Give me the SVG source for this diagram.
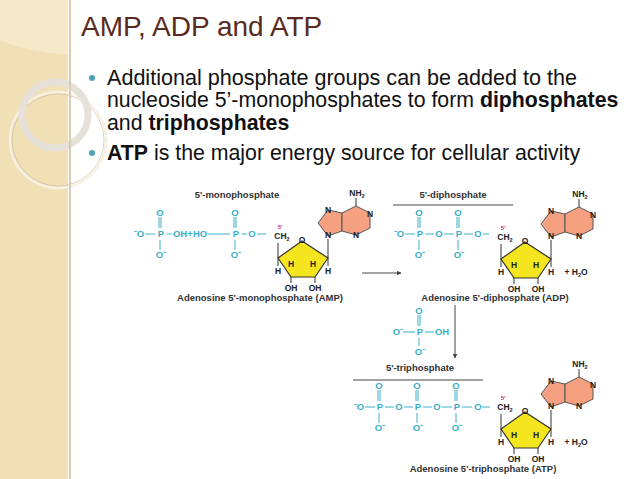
<svg xmlns="http://www.w3.org/2000/svg" xmlns:xlink="http://www.w3.org/1999/xlink" width="638" height="479" viewBox="0 0 638 479">
<style>
.t{font-family:"Liberation Sans",Arial,sans-serif}
.c{font-family:"Liberation Sans",Arial,sans-serif;font-weight:bold;font-size:8.5px;fill:#222;text-anchor:middle}
.p{font-family:"Liberation Sans",Arial,sans-serif;font-weight:bold;font-size:9.5px;fill:#3ab0c8;text-anchor:middle}
.b{stroke:#333;stroke-width:1;fill:none}
.pl{stroke:#3ab0c8;stroke-width:1}
.lbl{font-family:"Liberation Sans",Arial,sans-serif;font-weight:bold;font-size:9.5px;fill:#333;text-anchor:middle}
</style>
<defs>
<marker id="ah" viewBox="0 0 10 10" refX="9" refY="5" markerWidth="5" markerHeight="5" orient="auto"><path d="M0,0L10,5L0,10z" fill="#444"/></marker>
<g id="nuc">
<polygon points="-50,0 -26,-17 0,0 -13,19 -37,19" fill="#f5e51f" stroke="#333" stroke-width="1.2"/>
<polygon points="0,-22 -10,-35 0,-48 14,-45 14,-27" fill="#f4a081" stroke="#555" stroke-width="1"/>
<polygon points="14,-45 28,-52 42,-45 42,-30 28,-23 14,-27" fill="#f4a081" stroke="#555" stroke-width="1"/>
<path class="b" d="M-50,-15V0M-50,0V8M0,0V8M-37,19V25M-13,19V25M0,0V-19M28,-52V-60"/>
<text class="c" x="-26" y="-15">O</text>
<text class="c" x="-46" y="-19">CH<tspan font-size="5.5" dy="2">2</tspan></text>
<text class="c" x="-48" y="-29" style="fill:#c0308a;font-size:6px">5'</text>
<text class="c" x="-37" y="9">H</text><text class="c" x="-15" y="9">H</text>
<text class="c" x="-50" y="16">H</text><text class="c" x="0" y="16">H</text>
<text class="c" x="-37" y="33">OH</text><text class="c" x="-13" y="33">OH</text>
<text class="c" x="0" y="-20">N</text><text class="c" x="0" y="-45">N</text>
<text class="c" x="42" y="-41">N</text><text class="c" x="28" y="-20">N</text>
<text class="c" x="29" y="-62">NH<tspan font-size="5.5" dy="2">2</tspan></text>
</g>
</defs>
<rect width="638" height="479" fill="#fff"/>
<g id="decor">
<rect width="68" height="479" fill="#f1dfb6"/>
<path d="M0,0H68V55Q20,50 0,40Z" fill="#f6e8c8"/>
<circle cx="58" cy="140" r="48" fill="none" stroke="#f7f1e4" stroke-width="2.5"/>
<circle cx="58" cy="140" r="46" fill="none" stroke="#c9b79a" stroke-width="0.6"/>
<circle cx="55" cy="115" r="33" fill="none" stroke="#e6e1d8" stroke-width="7"/>
<line x1="70" y1="0" x2="70" y2="479" stroke="#d9cbb0" stroke-width="2"/>
</g>
<g id="title"><text class="t" x="81" y="36" font-size="28" fill="#5a2a1e">AMP, ADP and ATP</text></g>
<g id="bullets" class="t" font-size="21.3" fill="#111">
<circle cx="92" cy="78" r="3" fill="#4aa3b8"/>
<circle cx="92" cy="153" r="3" fill="#4aa3b8"/>
<text x="107" y="85" textLength="470" lengthAdjust="spacingAndGlyphs">Additional phosphate groups can be added to the</text>
<text x="107" y="107">nucleoside 5’-monophosphates to form <tspan font-weight="bold">diphosphates</tspan></text>
<text x="107" y="130">and <tspan font-weight="bold">triphosphates</tspan></text>
<text x="107" y="160"><tspan font-weight="bold">ATP</tspan> is the major energy source for cellular activity</text>
</g>
<g id="amp">
<text class="lbl" x="237" y="198">5'-monophosphate</text>
<path class="pl" d="M145,234H155M167,234H172M208,234H230M242,234H247M257,234H266M161,217V228M159,217V228M160,240V250M236,217V228M234,217V228M235,240V250"/>
<text class="p" x="139" y="237">⁻O</text><text class="p" x="161" y="237">P</text><text class="p" x="180" y="237">OH</text>
<text class="p" x="190" y="237">+</text><text class="p" x="200" y="237">HO</text><text class="p" x="236" y="237">P</text><text class="p" x="252" y="237">O</text>
<text class="p" x="160" y="216">O</text><text class="p" x="235" y="216">O</text>
<text class="p" x="161" y="258">O⁻</text><text class="p" x="236" y="258">O⁻</text>
<use href="#nuc" x="328" y="258"/>
<text class="lbl" x="260" y="301">Adenosine 5'-monophosphate (AMP)</text>
</g>
<g id="adp">
<text class="lbl" x="453" y="198">5'-diphosphate</text>
<line x1="393" y1="205" x2="513" y2="205" stroke="#444"/>
<path class="pl" d="M405,234H415M425,234H434M444,234H454M464,234H473M483,234H489M420,217V228M418,217V228M419,240V250M459,217V228M457,217V228M458,240V250"/>
<text class="p" x="399" y="237">⁻O</text><text class="p" x="420" y="237">P</text><text class="p" x="439" y="237">O</text><text class="p" x="459" y="237">P</text><text class="p" x="478" y="237">O</text>
<text class="p" x="419" y="216">O</text><text class="p" x="458" y="216">O</text>
<text class="p" x="420" y="258">O⁻</text><text class="p" x="459" y="258">O⁻</text>
<use href="#nuc" x="551" y="259"/>
<text class="c" x="576" y="275">+ H<tspan font-size="5.5" dy="2">2</tspan><tspan dy="-2">O</tspan></text>
<text class="lbl" x="495" y="301">Adenosine 5'-diphosphate (ADP)</text>
</g>
<g id="pi">
<path class="pl" d="M403,332H415M425,332H434M420,315V326M418,315V326M419,338V346"/>
<text class="p" x="398" y="335">O⁻</text><text class="p" x="420" y="335">P</text><text class="p" x="442" y="335">OH</text>
<text class="p" x="419" y="314">O</text><text class="p" x="420" y="355">O⁻</text>
</g>
<g id="atp">
<text class="lbl" x="420" y="371">5'-triphosphate</text>
<line x1="353" y1="380" x2="483" y2="380" stroke="#444"/>
<path class="pl" d="M365,407H375M385,407H394M404,407H413M423,407H432M442,407H452M462,407H472M482,407H490M380,390V401M378,390V401M379,413V423M418,390V401M416,390V401M417,413V423M457,390V401M455,390V401M456,413V423"/>
<text class="p" x="359" y="410">⁻O</text><text class="p" x="380" y="410">P</text><text class="p" x="399" y="410">O</text><text class="p" x="418" y="410">P</text><text class="p" x="437" y="410">O</text><text class="p" x="457" y="410">P</text><text class="p" x="478" y="410">O</text>
<text class="p" x="379" y="389">O</text><text class="p" x="417" y="389">O</text><text class="p" x="456" y="389">O</text>
<text class="p" x="380" y="431">O⁻</text><text class="p" x="418" y="431">O⁻</text><text class="p" x="457" y="431">O⁻</text>
<use href="#nuc" x="551" y="429"/>
<text class="c" x="576" y="445">+ H<tspan font-size="5.5" dy="2">2</tspan><tspan dy="-2">O</tspan></text>
<text class="lbl" x="483" y="472">Adenosine 5'-triphosphate (ATP)</text>
</g>
<g id="connectors">
<line x1="362" y1="273" x2="401" y2="273" stroke="#444" marker-end="url(#ah)"/>
<line x1="455" y1="305" x2="455" y2="358" stroke="#444" marker-end="url(#ah)"/>
</g>
</svg>
